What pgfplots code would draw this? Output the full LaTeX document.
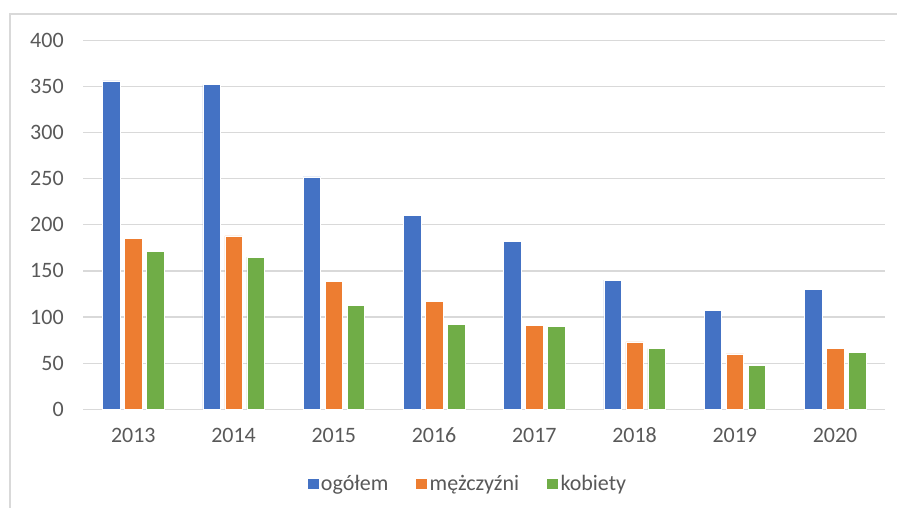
\documentclass[border=0pt]{standalone}
\usepackage{pgfplots}
\pgfplotsset{compat=1.18}
\usepackage{fontspec}
\setmainfont{Carlito}
\definecolor{cblue}{HTML}{4472C4}
\definecolor{corange}{HTML}{ED7D31}
\definecolor{cgreen}{HTML}{70AD47}
\definecolor{cgrid}{HTML}{D9D9D9}
\definecolor{ctext}{HTML}{595959}
\begin{document}
\begin{tikzpicture}[x=1pt,y=1pt]
\useasboundingbox (0,0) rectangle (897,508);
\draw[cgrid, line width=1.5pt] (10,0) -- (10,494) -- (897,494);
\begin{axis}[
  at={(83,107)}, anchor=south west,
  scale only axis, width=802pt, height=369pt,
  ybar=4.5pt, bar width=17.5pt,
  xmin=-0.5, xmax=7.5, ymin=0, ymax=400,
  xtick={0,...,7},
  xticklabels={2013,2014,2015,2016,2017,2018,2019,2020},
  ytick={0,50,...,400},
  ymajorgrids, major grid style={cgrid, line width=1.3pt},
  axis line style={draw=none},
  major tick length=0pt,
  tick label style={font=\fontsize{22}{26}\selectfont, text=ctext},
  /pgf/number format/assume math mode=true,
  y tick label style={anchor=east, xshift=-16pt},
  x tick label style={anchor=north, yshift=-15pt},
  legend style={at={(0.479,-0.2005)}, anchor=center, legend columns=3, draw=none,
    font=\fontsize{22}{26}\selectfont, text=ctext,
    nodes={inner sep=2pt},
    /tikz/every even column/.append style={column sep=25pt}},
  legend image code/.code={\fill[#1] (0pt,-5.5pt) rectangle (12pt,5.5pt);},
]
\addplot[fill=cblue, draw=white, line width=0.4pt] coordinates {(0,356) (1,352) (2,252) (3,210) (4,182) (5,140) (6,107) (7,130)};
\addplot[fill=corange, draw=white, line width=0.4pt] coordinates {(0,185) (1,188) (2,139) (3,117) (4,91) (5,73) (6,60) (7,66)};
\addplot[fill=cgreen, draw=white, line width=0.4pt] coordinates {(0,171) (1,165) (2,113) (3,92) (4,90) (5,66) (6,48) (7,62)};
\legend{ogółem, mężczyźni, kobiety}
\end{axis}
\end{tikzpicture}
\end{document}
